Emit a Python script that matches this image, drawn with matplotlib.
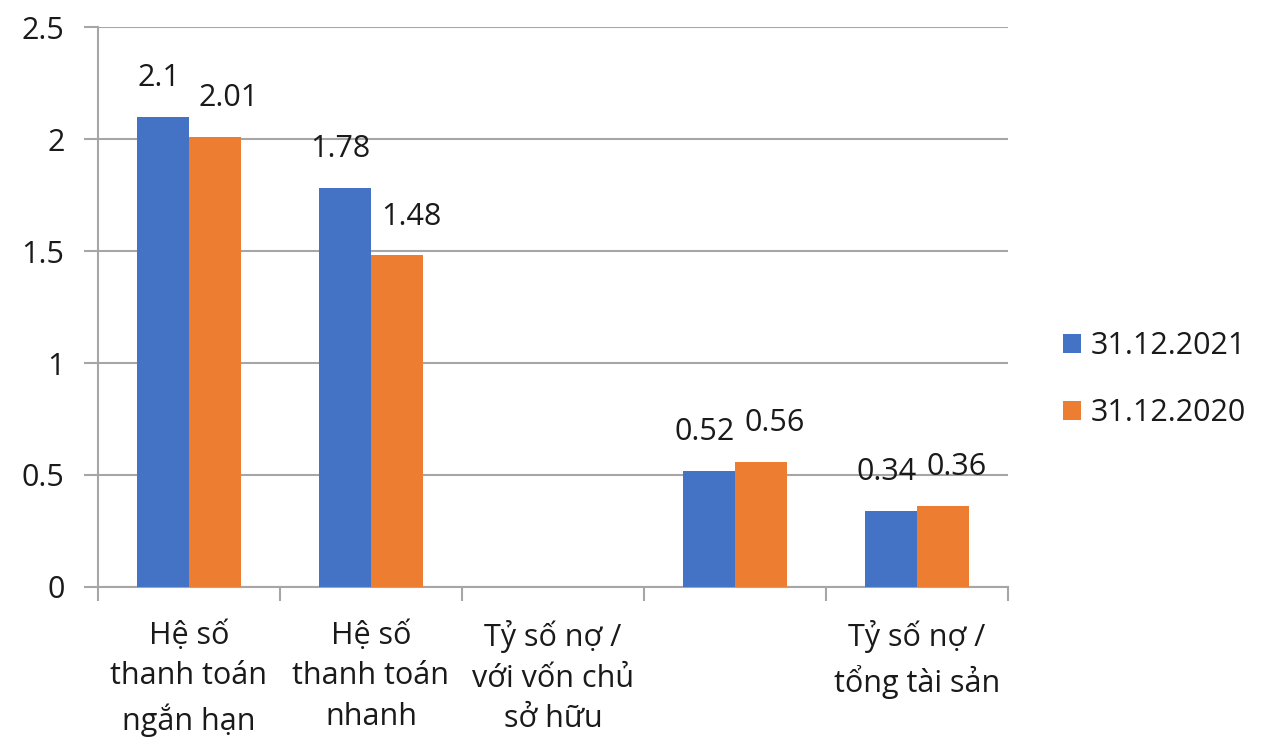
import matplotlib.pyplot as plt
import numpy as np

# Các chỉ tiêu và giá trị
categories = [
    "Hệ số\nthanh toán\nngắn hạn",
    "Hệ số\nthanh toán\nnhanh",
    "Tỷ số nợ /\nvới vốn chủ\nsở hữu",
    "",
    "Tỷ số nợ /\ntổng tài sản",
]
series_names = ["31.12.2021", "31.12.2020"]
values_2021 = [2.1, 1.78, np.nan, 0.52, 0.34]
values_2020 = [2.01, 1.48, np.nan, 0.56, 0.36]
y_ticks = [0, 0.5, 1, 1.5, 2, 2.5]

BLUE = "#4472C4"
ORANGE = "#ED7D31"
GRID = "#a6a6a6"
TEXT = "#1a1a1a"
FS = 22

plt.rcParams["font.family"] = ["Open Sans", "DejaVu Sans"]

fig = plt.figure(figsize=(12.64, 7.42), dpi=100)
ax = fig.add_axes([0.0775, 0.2089, 0.72, 0.7547])

x = np.arange(len(categories))
width = 0.286

# (giá trị, màu, tên, độ lệch cột, độ lệch nhãn theo chiều ngang)
series = [(values_2021, BLUE, series_names[0], -width / 2, -3),
          (values_2020, ORANGE, series_names[1], width / 2, 10)]
for vals, color, name, shift, dx in series:
    ax.bar(x + shift, vals, width, color=color, label=name, zorder=3)
    for xi, v in zip(x + shift, vals):
        if np.isnan(v):
            continue
        ax.annotate(f"{v:g}", (xi, v), xytext=(dx, 28), textcoords="offset points",
                    ha="center", va="center", fontsize=FS, color=TEXT)

ax.set_xlim(-0.5, len(categories) - 0.5)
ax.set_ylim(0, 2.5)
ax.set_yticks(y_ticks)
ax.set_yticklabels([f"{t:g}" for t in y_ticks], fontsize=FS, color=TEXT)
ax.yaxis.grid(True, color=GRID, linewidth=1.5, zorder=0)

# nhãn ở giữa nhóm, vạch chia ở ranh giới nhóm
ax.set_xticks(x)
ax.set_xticklabels(categories, fontsize=FS, color=TEXT, va="top", linespacing=1.45)
ax.set_xticks(np.arange(-0.5, len(categories)), minor=True)
ax.tick_params(axis="x", which="major", length=0, pad=24)
ax.tick_params(axis="x", which="minor", length=10, width=1.5, color=GRID)
ax.tick_params(axis="y", length=10, width=1.5, color=GRID, pad=14)

for side in ["top", "right"]:
    ax.spines[side].set_visible(False)
for side in ["left", "bottom"]:
    ax.spines[side].set_color(GRID)
    ax.spines[side].set_linewidth(1.5)

ax.legend(loc="center left", bbox_to_anchor=(1.03, 0.37), frameon=False,
          fontsize=FS, handlelength=0.6, handleheight=0.6, handletextpad=0.3,
          labelspacing=1.2, labelcolor=TEXT)

fig.savefig("out.png", dpi=100)
